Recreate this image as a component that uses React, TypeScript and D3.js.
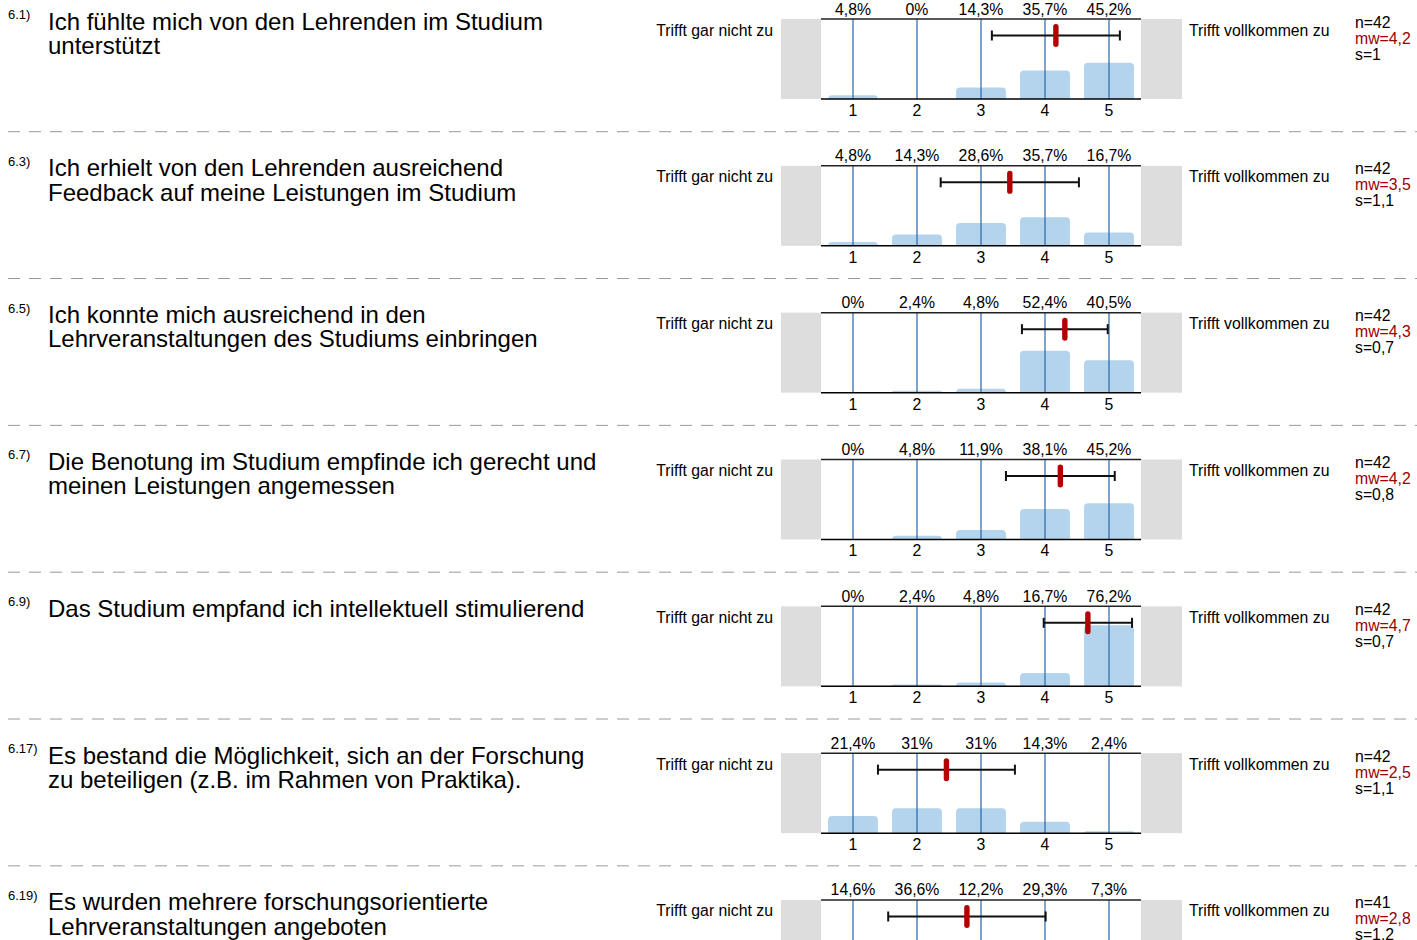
import React from "react";
import * as d3 from "d3";

const numbers = ["6.1)", "6.3)", "6.5)", "6.7)", "6.9)", "6.17)", "6.19)"];
const questions: string[][] = [
  ["Ich fühlte mich von den Lehrenden im Studium", "unterstützt"],
  ["Ich erhielt von den Lehrenden ausreichend", "Feedback auf meine Leistungen im Studium"],
  ["Ich konnte mich ausreichend in den", "Lehrveranstaltungen des Studiums einbringen"],
  ["Die Benotung im Studium empfinde ich gerecht und", "meinen Leistungen angemessen"],
  ["Das Studium empfand ich intellektuell stimulierend"],
  ["Es bestand die Möglichkeit, sich an der Forschung", "zu beteiligen (z.B. im Rahmen von Praktika)."],
  ["Es wurden mehrere forschungsorientierte", "Lehrveranstaltungen angeboten"],
];
const percents: number[][] = [
  [4.8, 0, 14.3, 35.7, 45.2],
  [4.8, 14.3, 28.6, 35.7, 16.7],
  [0, 2.4, 4.8, 52.4, 40.5],
  [0, 4.8, 11.9, 38.1, 45.2],
  [0, 2.4, 4.8, 16.7, 76.2],
  [21.4, 31, 31, 14.3, 2.4],
  [14.6, 36.6, 12.2, 29.3, 7.3],
];
const means = [4.17, 3.45, 4.31, 4.24, 4.67, 2.46, 2.78];
const sds = [1.0, 1.08, 0.67, 0.85, 0.69, 1.07, 1.23];
const nLabels = ["n=42", "n=42", "n=42", "n=42", "n=42", "n=42", "n=41"];
const mwLabels = ["mw=4,2", "mw=3,5", "mw=4,3", "mw=4,2", "mw=4,7", "mw=2,5", "mw=2,8"];
const sLabels = ["s=1", "s=1,1", "s=0,7", "s=0,8", "s=0,7", "s=1,1", "s=1.2"];
const scaleValues = [1, 2, 3, 4, 5];
const leftPole = "Trifft gar nicht zu";
const rightPole = "Trifft vollkommen zu";

const W = 1417;
const H = 940;
const ROW_H = 146.83;
const TOP = 19;
const BOTTOM = 99;
const FONT = "'Liberation Sans', Arial, Helvetica, sans-serif";
const SMALL = 15.8;

const fmtPct = (v: number) => `${String(v).replace(".", ",")}%`;

function barPath(x0: number, w: number, yTop: number, yBot: number) {
  const h = yBot - yTop;
  if (h <= 0) return "";
  const r = Math.min(4, h, w / 2);
  return `M${x0},${yBot}V${yTop + r}Q${x0},${yTop} ${x0 + r},${yTop}H${x0 + w - r}Q${x0 + w},${yTop} ${x0 + w},${yTop + r}V${yBot}Z`;
}

export default function App() {
  const x = d3.scaleLinear().domain([0.5, 5.5]).range([821, 1141]);
  const y = d3.scaleLinear().domain([0, 100]).range([BOTTOM, TOP]);
  const band = d3.scaleBand<number>().domain(scaleValues).range([821, 1141]).paddingInner(0.22).paddingOuter(0.11);

  return (
    <svg width={W} height={H} style={{ position: "absolute", left: 0, top: 0, fontFamily: FONT }}>
      <rect width={W} height={H} fill="#fff" />
      {questions.map((q, i) => {
        const oy = i * ROW_H;
        const errY = TOP + 16.5;
        return (
          <g key={i} transform={`translate(0,${oy})`}>
            <text x={8} y={19} fontSize={13} fill="#000">{numbers[i]}</text>
            {q.map((line, k) => (
              <text key={k} x={48} y={29.5 + k * 24.3} fontSize={24} fill="#000">{line}</text>
            ))}
            <text x={773} y={35.5} fontSize={SMALL} textAnchor="end" fill="#000">{leftPole}</text>
            <text x={1189} y={35.5} fontSize={SMALL} fill="#000">{rightPole}</text>
            <text x={1355} y={27.5} fontSize={SMALL} fill="#000">{nLabels[i]}</text>
            <text x={1355} y={43.5} fontSize={SMALL} fill="#990000">{mwLabels[i]}</text>
            <text x={1355} y={59.5} fontSize={SMALL} fill="#000">{sLabels[i]}</text>

            <rect x={781} y={TOP} width={401} height={BOTTOM - TOP} fill="#dddddd" />
            <rect x={821} y={TOP} width={320} height={BOTTOM - TOP} fill="#fff" />

            {percents[i].map((p, j) => (
              <path key={j} d={barPath(band(scaleValues[j])!, band.bandwidth(), y(p), BOTTOM)} fill="#b3d4ec" />
            ))}
            {scaleValues.map((v) => (
              <line key={v} x1={x(v)} x2={x(v)} y1={TOP} y2={BOTTOM} stroke="#2b65a5" strokeWidth={1.2} />
            ))}
            <line x1={821} x2={1141} y1={TOP} y2={TOP} stroke="#222" strokeWidth={1.5} />
            <line x1={821} x2={1141} y1={BOTTOM} y2={BOTTOM} stroke="#000" strokeWidth={1.5} />

            {percents[i].map((p, j) => (
              <text key={j} x={x(scaleValues[j])} y={14.5} fontSize={SMALL} textAnchor="middle" fill="#000">{fmtPct(p)}</text>
            ))}
            {scaleValues.map((v) => (
              <text key={v} x={x(v)} y={116} fontSize={SMALL} textAnchor="middle" fill="#000">{v}</text>
            ))}

            <line x1={x(means[i] - sds[i])} x2={x(means[i] + sds[i])} y1={errY} y2={errY} stroke="#111" strokeWidth={2} />
            <line x1={x(means[i] - sds[i])} x2={x(means[i] - sds[i])} y1={errY - 5} y2={errY + 5} stroke="#111" strokeWidth={2} />
            <line x1={x(means[i] + sds[i])} x2={x(means[i] + sds[i])} y1={errY - 5} y2={errY + 5} stroke="#111" strokeWidth={2} />
            <rect x={x(means[i]) - 2.7} y={errY - 11.5} width={5.4} height={23} rx={2.7} fill="#b30000" />

            {i < questions.length - 1 && (
              <line x1={8} x2={W} y1={131.7} y2={131.7} stroke="#999" strokeWidth={1} strokeDasharray="12,9" />
            )}
          </g>
        );
      })}
    </svg>
  );
}
